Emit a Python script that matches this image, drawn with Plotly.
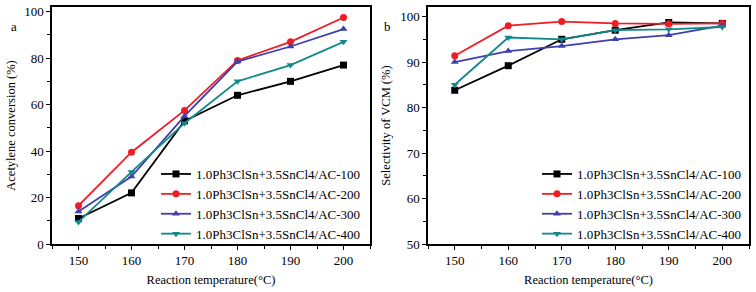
import plotly.graph_objects as go

temps = [150, 160, 170, 180, 190, 200]
series_names = [
    "1.0Ph3ClSn+3.5SnCl4/AC-100",
    "1.0Ph3ClSn+3.5SnCl4/AC-200",
    "1.0Ph3ClSn+3.5SnCl4/AC-300",
    "1.0Ph3ClSn+3.5SnCl4/AC-400",
]
conv_100 = [11, 22, 53, 64, 70, 77]
conv_200 = [16.5, 39.5, 57.5, 79, 87, 97.5]
conv_300 = [14, 29, 55, 78.5, 85, 92.5]
conv_400 = [9.5, 31, 52, 70, 77, 87]

sel_100 = [83.8, 89.2, 95.0, 97.0, 98.7, 98.5]
sel_200 = [91.4, 98.0, 98.9, 98.5, 98.4, 98.5]
sel_300 = [90.0, 92.4, 93.5, 95.0, 95.9, 98.0]
sel_400 = [85.0, 95.4, 95.0, 97.0, 97.2, 97.7]

colors = ["#000000", "#ee1c24", "#3f3fae", "#138a8a"]
symbols = ["square", "circle", "triangle-up", "triangle-down"]
FONT = "Liberation Serif"

W, H = 756, 292
ML, MR, MT, MB = 52, 7, 7, 48
PW = W - ML - MR
PH = H - MT - MB

def px2x(p):
    return (p - ML) / PW

def px2y(p):
    return (H - MB - p) / PH

fig = go.Figure()

for name, ys, c, s in zip(series_names, [conv_100, conv_200, conv_300, conv_400], colors, symbols):
    fig.add_trace(go.Scatter(
        x=temps, y=ys, name=name, mode="lines+markers",
        line=dict(color=c, width=1.8),
        marker=dict(symbol=s, size=7, color=c),
        xaxis="x", yaxis="y", legend="legend",
    ))

for name, ys, c, s in zip(series_names, [sel_100, sel_200, sel_300, sel_400], colors, symbols):
    fig.add_trace(go.Scatter(
        x=temps, y=ys, name=name, mode="lines+markers",
        line=dict(color=c, width=1.8),
        marker=dict(symbol=s, size=7, color=c),
        xaxis="x2", yaxis="y2", legend="legend2",
    ))

axis_common = dict(
    showgrid=False, zeroline=False, showline=True, linecolor="black", linewidth=1.5,
    mirror=True, ticks="outside", ticklen=4, tickwidth=1.2, tickcolor="black",
    tickfont=dict(family=FONT, size=13, color="black"),
)
xcommon = dict(axis_common, range=[145, 205], tick0=150, dtick=10,
               minor=dict(dtick=5, tick0=145, ticks="outside", ticklen=3, tickcolor="black", tickwidth=1.2),
               title=dict(text="Reaction temperature(°C)", font=dict(family=FONT, size=12.5, color="black"), standoff=8))

fig.update_layout(
    width=W, height=H,
    margin=dict(l=ML, r=MR, t=MT, b=MB, autoexpand=False),
    plot_bgcolor="white", paper_bgcolor="white",
    xaxis=dict(xcommon, domain=[0, px2x(370)], anchor="y"),
    yaxis=dict(axis_common, domain=[0, 1], anchor="x", range=[0, 102], tick0=0, dtick=20,
               minor=dict(dtick=10, ticks="outside", ticklen=3, tickcolor="black", tickwidth=1.2),
               title=dict(text="Acetylene conversion (%)", font=dict(family=FONT, size=12.5, color="black"), standoff=6)),
    xaxis2=dict(xcommon, domain=[px2x(428), 1], anchor="y2"),
    yaxis2=dict(axis_common, domain=[0, 1], anchor="x2", range=[50, 102.1], tick0=50, dtick=10,
                minor=dict(dtick=5, ticks="outside", ticklen=3, tickcolor="black", tickwidth=1.2),
                title=dict(text="Selectivity of VCM (%)", font=dict(family=FONT, size=12.5, color="black"), standoff=7)),
    legend=dict(x=px2x(156), y=px2y(159), xanchor="left", yanchor="top",
                bgcolor="rgba(0,0,0,0)", font=dict(family=FONT, size=13, color="black"),
                tracegroupgap=0, itemwidth=30),
    legend2=dict(x=px2x(537), y=px2y(159), xanchor="left", yanchor="top",
                 bgcolor="rgba(0,0,0,0)", font=dict(family=FONT, size=13, color="black"),
                 tracegroupgap=0, itemwidth=30),
    annotations=[
        dict(text="a", x=px2x(9), y=px2y(17), xref="paper", yref="paper", showarrow=False,
             font=dict(family=FONT, size=13, color="black")),
        dict(text="b", x=px2x(387), y=px2y(17), xref="paper", yref="paper", showarrow=False,
             font=dict(family=FONT, size=13, color="black")),
    ],
)

fig.write_html("out.html", config={"displayModeBar": False},
               post_script="document.body.style.margin='0px';document.body.style.overflow='hidden';")
